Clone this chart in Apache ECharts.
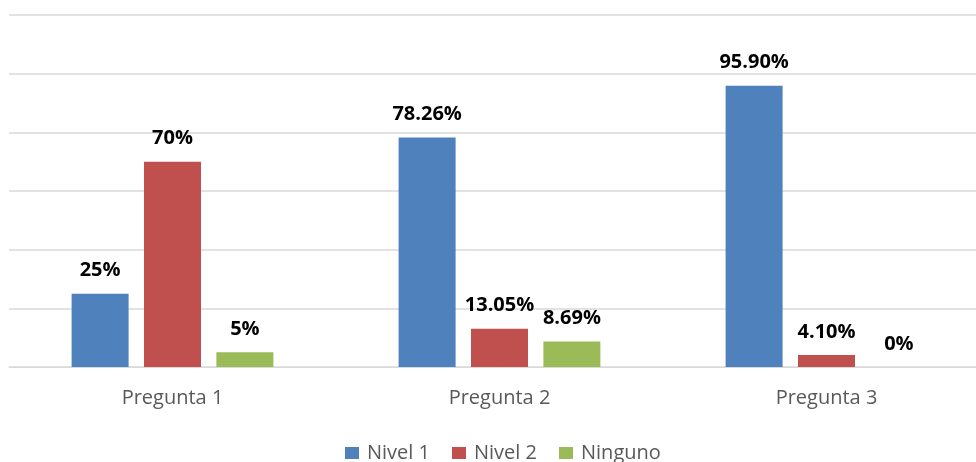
<!DOCTYPE html>
<html>
<head>
<meta charset="utf-8">
<script src="https://cdn.jsdelivr.net/npm/echarts@6/dist/echarts.min.js"></script>
<style>html,body{margin:0;padding:0;background:#fff;overflow:hidden}#c{width:990px;height:462px}</style>
</head>
<body>
<div id="c"></div>
<script>
const categories = ['Pregunta 1', 'Pregunta 2', 'Pregunta 3'];
const nivel1 = [25, 78.26, 95.9];
const nivel2 = [70, 13.05, 4.1];
const ninguno = [5, 8.69, 0];
const labels1 = ['25%', '78.26%', '95.90%'];
const labels2 = ['70%', '13.05%', '4.10%'];
const labels3 = ['5%', '8.69%', '0%'];

const chart = echarts.init(document.getElementById('c'));
function mk(name, data, labs, color) {
  return {
    name: name, type: 'bar', data: data,
    barWidth: 57, barGap: '27%',
    itemStyle: { color: color },
    label: {
      show: true, position: 'top', distance: 13,
      formatter: p => labs[p.dataIndex],
      fontFamily: 'Open Sans', fontWeight: 'bold', fontSize: 20, color: '#000'
    }
  };
}
chart.setOption({
  animation: false,
  grid: { left: 9, top: 15, right: 0, bottom: 95, containLabel: false },
  legend: {
    top: 438, left: 340,
    itemWidth: 14, itemHeight: 12, itemGap: 22,
    icon: 'rect',
    textStyle: { fontFamily: 'Open Sans', fontSize: 20, color: '#595959', padding: [0, 0, 0, 3] },
    data: ['Nivel 1', 'Nivel 2', 'Ninguno']
  },
  xAxis: {
    type: 'category', data: categories,
    axisLine: { lineStyle: { color: '#D9D9D9', width: 1 } },
    axisTick: { show: false },
    axisLabel: { fontFamily: 'Open Sans', fontSize: 20, color: '#595959', margin: 21 }
  },
  yAxis: {
    type: 'value', min: 0, max: 120, interval: 20,
    axisLabel: { show: false },
    axisLine: { show: false }, axisTick: { show: false },
    splitLine: { lineStyle: { color: '#D9D9D9', width: 1.5 } }
  },
  series: [
    mk('Nivel 1', nivel1, labels1, '#4F81BD'),
    mk('Nivel 2', nivel2, labels2, '#C0504D'),
    mk('Ninguno', ninguno, labels3, '#9BBB59')
  ]
});
</script>
</body>
</html>
